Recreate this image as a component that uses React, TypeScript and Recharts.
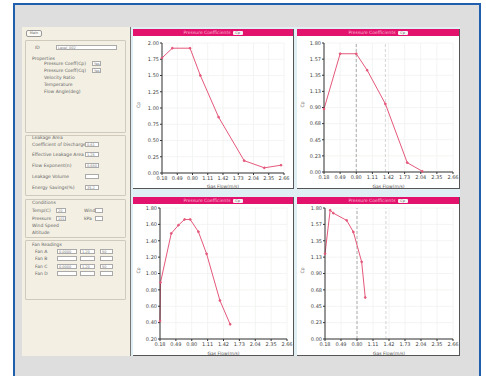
import React from 'react';
import { LineChart, Line, XAxis, YAxis, CartesianGrid, ReferenceLine, Label } from 'recharts';

// ---- data ----
const flowTicks = [0.18, 0.49, 0.8, 1.11, 1.42, 1.73, 2.04, 2.35, 2.66];
const cpTicksA = [0, 0.25, 0.5, 0.75, 1.0, 1.25, 1.5, 1.75, 2.0];
const cpTicksB = [0, 0.225, 0.45, 0.675, 0.9, 1.125, 1.35, 1.575, 1.8];
const cpTicksC = [0.2, 0.4, 0.6, 0.8, 1.0, 1.2, 1.4, 1.6, 1.8];

const flow1 = [0.18, 0.39, 0.75, 0.96, 1.33, 1.85, 2.26, 2.6];
const cp1 = [1.77, 1.92, 1.92, 1.5, 0.86, 0.19, 0.08, 0.12];

const flow2 = [0.18, 0.49, 0.8, 1.01, 1.36, 1.78, 2.07];
const cp2 = [0.88, 1.65, 1.65, 1.42, 0.95, 0.13, 0.01];

const flow3 = [0.18, 0.19, 0.4, 0.54, 0.66, 0.77, 0.93, 1.09, 1.35, 1.55];
const cp3 = [0.42, 0.89, 1.49, 1.59, 1.66, 1.66, 1.51, 1.24, 0.67, 0.38];

const flow4 = [0.18, 0.28, 0.34, 0.6, 0.73, 0.89, 0.96];
const cp4 = [1.17, 1.77, 1.73, 1.63, 1.47, 1.06, 0.57];

const markerFlows = [0.8, 1.36];

const chartTitle = 'Pressure Coefficients';
const xLabel = 'Gas Flow(m/s)';
const yLabel = 'Cp';

const zip = (xs: number[], ys: number[]) => xs.map((x, i) => ({ flow: x, cp: ys[i] }));

type PanelProps = {
  left: number; top: number; width: number; height: number;
  xs: number[]; ys: number[]; yTicks: number[];
  yAxisW: number; mRight: number; mTop: number; xAxisH: number;
  refs?: number[];
};

const tickStyle = { fontSize: 5, fill: '#444', fontFamily: 'DejaVu Sans' };

function Panel(p: PanelProps) {
  const data = zip(p.xs, p.ys);
  return (
    <div style={{ position: 'absolute', left: p.left, top: p.top - 7, width: p.width, height: p.height + 7, background: '#fff', borderRight: '1px solid #555', borderBottom: '1px solid #555', boxSizing: 'border-box' }}>
      <div style={{ position: 'absolute', left: 0, top: 0, width: '100%', height: 7, background: '#e3126c', display: 'flex', alignItems: 'center', justifyContent: 'center' }}>
        <span style={{ fontSize: 4.5, color: '#f7b8d2', fontFamily: 'DejaVu Sans', lineHeight: '7px' }}>{chartTitle}</span>
        <span style={{ marginLeft: 2, width: 10, height: 4, background: '#f4f4f4', borderRadius: 1, fontSize: 3.5, lineHeight: '4px', color: '#666', textAlign: 'center', fontFamily: 'DejaVu Sans' }}>{yLabel}</span>
      </div>
      <div style={{ position: 'absolute', left: 0, top: 7 }}>
        <LineChart width={p.width} height={p.height} data={data} margin={{ top: p.mTop, right: p.mRight, bottom: 0, left: 0 }}>
          <CartesianGrid stroke="#f0f3ef" strokeWidth={0.8} />
          <XAxis dataKey="flow" type="number" domain={[flowTicks[0], flowTicks[flowTicks.length - 1]]} ticks={flowTicks}
            tickFormatter={(v: number) => v.toFixed(2)} tick={tickStyle} tickSize={2} tickMargin={1}
            stroke="#333" height={p.xAxisH} interval={0}>
            <Label value={xLabel} position="insideBottom" offset={1} style={{ fontSize: 4.5, fill: '#555', fontFamily: 'DejaVu Sans' }} />
          </XAxis>
          <YAxis type="number" domain={[p.yTicks[0], p.yTicks[p.yTicks.length - 1]]} ticks={p.yTicks}
            tickFormatter={(v: number) => v.toFixed(2)} tick={tickStyle} tickSize={2} tickMargin={1}
            stroke="#333" width={p.yAxisW} interval={0}>
            <Label value={yLabel} angle={-90} position="insideLeft" offset={5} style={{ fontSize: 4.5, fill: '#555', fontFamily: 'DejaVu Sans' }} />
          </YAxis>
          {(p.refs || []).map((r, i) => (
            <ReferenceLine key={i} x={r} stroke={i === 0 ? '#999' : '#ccc'} strokeDasharray="3 2" strokeWidth={0.8} />
          ))}
          <Line type="linear" dataKey="cp" stroke="#e5587b" strokeWidth={1} isAnimationActive={false}
            dot={{ r: 0.9, fill: '#e5587b', stroke: '#e5587b' }} />
        </LineChart>
      </div>
    </div>
  );
}

const txt = (s: string, x: number, y: number, extra: React.CSSProperties = {}) => (
  <div style={{ position: 'absolute', left: x, top: y - 3, fontSize: 4.5, lineHeight: '6px', color: '#666', fontFamily: 'DejaVu Sans', whiteSpace: 'nowrap', ...extra }}>{s}</div>
);
const box = (x: number, y: number, w: number, v = '') => (
  <div style={{ position: 'absolute', left: x, top: y - 3, width: w, height: 5, background: '#fff', border: '0.5px solid #aaa', fontSize: 3.5, lineHeight: '5px', color: '#777', fontFamily: 'DejaVu Sans', paddingLeft: 1, boxSizing: 'border-box' }}>{v}</div>
);
const group = (y1: number, y2: number) => (
  <div style={{ position: 'absolute', left: 25, top: y1, width: 101, height: y2 - y1, border: '0.5px solid #cfcabb', borderRadius: 1, boxSizing: 'border-box' }} />
);

function LeftPanel() {
  return (
    <div style={{ position: 'absolute', left: 22, top: 27, width: 109, height: 329, background: '#f3f0e3', borderRight: '1px solid #777', boxSizing: 'border-box' }}>
      <div style={{ position: 'absolute', left: -22, top: -27 }}>
        <div style={{ position: 'absolute', left: 26, top: 30, width: 14, height: 5, background: '#fbfaf5', border: '0.5px solid #999', borderRadius: 2, fontSize: 3.5, lineHeight: '5px', color: '#666', textAlign: 'center', fontFamily: 'DejaVu Sans' }}>Main</div>
        {group(40, 133)}
        {txt('ID', 35, 48)}
        {box(56, 48, 61, 'Level_002')}
        {txt('Properties', 32, 59)}
        {txt('Pressure Coeff(Cp)', 44, 64)}
        {box(92, 64, 9, 'Yes')}
        {txt('Pressure Coeff(Cq)', 44, 71)}
        {box(92, 71, 9, 'Yes')}
        {txt('Velocity Ratio', 44, 78)}
        {txt('Temperature', 44, 85)}
        {txt('Flow Angle(deg)', 44, 92)}
        {group(135, 196)}
        {txt('Leakage Area', 32, 138)}
        {txt('Coefficient of Discharge', 32, 145)}
        {box(85, 145, 14, '0.61')}
        {txt('Effective Leakage Area', 32, 155)}
        {box(85, 155, 14, '1.25')}
        {txt('Flow Exponent(n)', 32, 166)}
        {box(85, 166, 14, '0.650')}
        {txt('Leakage Volume', 32, 177)}
        {box(85, 177, 14, '')}
        {txt('Energy Savings(%)', 32, 188)}
        {box(85, 188, 14, '35.2')}
        {group(199, 238)}
        {txt('Conditions', 32, 203)}
        {txt('Temp(C)', 32, 211)}
        {box(56, 211, 10, '20')}
        {txt('Wind', 84, 211)}
        {box(95, 211, 8, '')}
        {txt('Pressure', 32, 219)}
        {box(56, 219, 10, '101')}
        {txt('kPa', 84, 219)}
        {box(95, 219, 8, '')}
        {txt('Wind Speed', 32, 226)}
        {txt('Altitude', 32, 233)}
        {group(240, 300)}
        {txt('Fan Readings', 32, 245)}
        {txt('Fan A', 35, 252)}
        {box(57, 252, 20, '0.0000')}
        {box(80, 252, 15, '1.20')}
        {box(100, 252, 13, '50')}
        {txt('Fan B', 35, 259)}
        {box(57, 259, 20, '')}
        {box(80, 259, 15, '')}
        {box(100, 259, 13, '')}
        {txt('Fan C', 35, 267)}
        {box(57, 267, 20, '0.0000')}
        {box(80, 267, 15, '1.20')}
        {box(100, 267, 13, '50')}
        {txt('Fan D', 35, 274)}
        {box(57, 274, 20, '')}
        {box(80, 274, 15, '')}
        {box(100, 274, 13, '')}
      </div>
    </div>
  );
}

export default function App() {
  return (
    <div style={{ position: 'fixed', left: 0, top: 0, width: 486, height: 376, background: '#fff', overflow: 'hidden' }}>
      <div style={{ position: 'absolute', left: 13, top: 3, width: 468, height: 390, background: '#dedede', border: '2px solid #1f5fae', boxSizing: 'border-box' }} />
      <div style={{ position: 'absolute', left: 131, top: 27, width: 329, height: 329, background: '#dfeff4' }} />
      <LeftPanel />
      <Panel left={133} top={36} width={161} height={153} xs={flow1} ys={cp1} yTicks={cpTicksA}
        yAxisW={29} mRight={10} mTop={7} xAxisH={16} />
      <Panel left={297} top={36} width={163} height={153} xs={flow2} ys={cp2} yTicks={cpTicksB}
        yAxisW={27} mRight={7} mTop={7} xAxisH={17} refs={markerFlows} />
      <Panel left={133} top={204} width={161} height={152} xs={flow3} ys={cp3} yTicks={cpTicksC}
        yAxisW={27} mRight={7} mTop={4} xAxisH={17} />
      <Panel left={297} top={204} width={163} height={152} xs={flow4} ys={cp4} yTicks={cpTicksB}
        yAxisW={28} mRight={7} mTop={4} xAxisH={17} refs={markerFlows} />
    </div>
  );
}
